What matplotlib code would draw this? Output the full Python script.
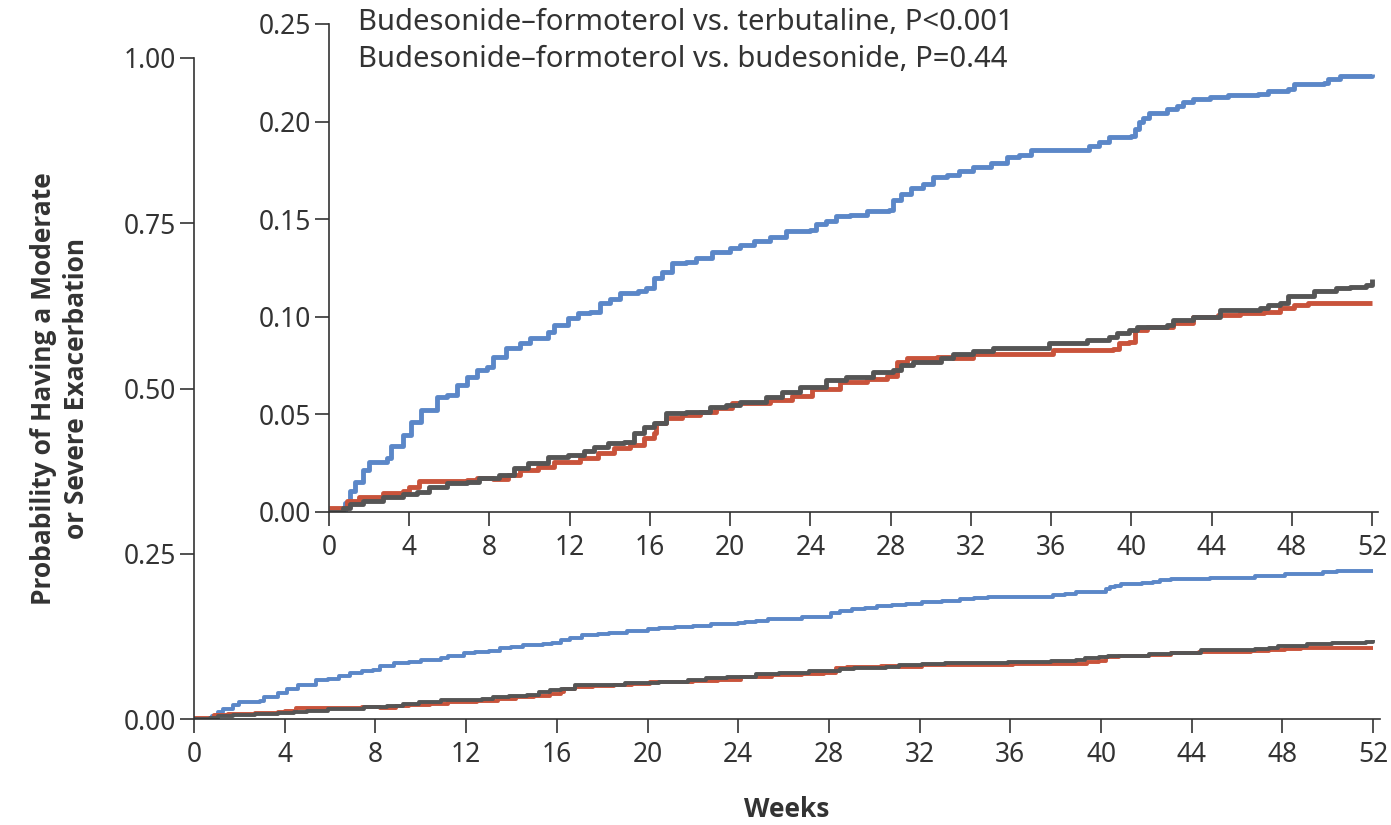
import matplotlib
matplotlib.use('Agg')
from matplotlib import pyplot as plt

# ── Data ─────────────────────────────────────────────────────────────────────
weeks_terb = [0, 0.8, 1.05, 1.3, 1.7, 2.0, 2.9, 3.1, 3.7, 4.1, 4.6, 5.4, 5.9, 6.4, 6.9,
              7.4, 7.9, 8.2, 8.8, 9.5, 10.0, 10.9, 11.2, 11.9, 12.4, 13.0, 13.5, 14.0,
              14.5, 15.4, 15.8, 16.2, 16.6, 17.1, 17.8, 18.3, 19.1, 20.0, 20.5, 21.2,
              22.0, 22.8, 24.0, 24.3, 24.8, 25.3, 26.0, 26.8, 27.9, 28.1, 28.5, 29.0,
              29.6, 30.1, 30.8, 31.4, 32.1, 33.0, 33.8, 34.4, 35.0, 37.6, 37.9, 38.4,
              38.9, 40.0, 40.2, 40.4, 40.6, 40.9, 41.8, 42.3, 42.6, 43.1, 43.9, 44.8,
              46.3, 46.8, 47.8, 48.1, 49.6, 49.8, 50.4, 52.0]
prob_terb = [0.0, 0.0046, 0.011, 0.0154, 0.0216, 0.0257, 0.0277, 0.034, 0.0395, 0.046,
             0.052, 0.059, 0.060, 0.065, 0.069, 0.073, 0.0745, 0.0796, 0.084, 0.0867,
             0.089, 0.092, 0.096, 0.0996, 0.102, 0.1027, 0.107, 0.109, 0.112, 0.113,
             0.115, 0.120, 0.123, 0.1278, 0.128, 0.130, 0.133, 0.1355, 0.137, 0.1386,
             0.141, 0.1437, 0.1447, 0.1473, 0.149, 0.1514, 0.152, 0.154, 0.1545, 0.160,
             0.1627, 0.166, 0.168, 0.1714, 0.1725, 0.1745, 0.1766, 0.179, 0.1817, 0.183,
             0.1853, 0.1853, 0.1874, 0.1894, 0.192, 0.1925, 0.196, 0.1997, 0.2017,
             0.2043, 0.2064, 0.208, 0.210, 0.2115, 0.2125, 0.2136, 0.214, 0.2156,
             0.2166, 0.2192, 0.220, 0.2218, 0.2233, 0.2243]

weeks_bud = [0, 0.9, 1.5, 2.7, 3.7, 4.0, 4.5, 6.9, 7.4, 8.2, 8.9, 9.5, 10.4, 11.2, 12.5,
             13.4, 14.2, 15.0, 15.7, 16.2, 16.3, 16.8, 17.6, 18.5, 19.3, 20.1, 22.0,
             23.1, 24.1, 25.5, 26.8, 27.8, 28.3, 28.8, 30.3, 31.1, 32.1, 35.3, 36.1,
             39.1, 39.4, 39.9, 40.2, 40.8, 42.1, 43.1, 44.3, 45.4, 46.6, 47.4, 48.1,
             48.8, 52.0]
prob_bud = [0.002, 0.0056, 0.0077, 0.0098, 0.0108, 0.0128, 0.016, 0.0164, 0.0175, 0.017,
            0.019, 0.0216, 0.0231, 0.0257, 0.0277, 0.0303, 0.0328, 0.0344, 0.038, 0.0405,
            0.0457, 0.048, 0.0498, 0.0513, 0.0534, 0.056, 0.0575, 0.0596, 0.0631, 0.0667,
            0.0683, 0.0698, 0.077, 0.079, 0.0796, 0.079, 0.081, 0.081, 0.0832, 0.0837,
            0.0868, 0.0873, 0.0934, 0.095, 0.097, 0.100, 0.101, 0.102, 0.1027, 0.1047,
            0.1063, 0.1073, 0.1073]

weeks_budform = [0, 0.7, 1.05, 1.7, 2.7, 3.7, 4.4, 5.0, 5.9, 6.9, 7.5, 8.5, 9.2, 9.9,
                 10.9, 11.9, 12.7, 13.2, 13.9, 14.7, 15.2, 15.7, 16.2, 16.8, 17.8, 19.0,
                 19.8, 20.5, 21.8, 22.6, 23.5, 24.8, 25.8, 27.1, 28.1, 28.5, 29.1, 30.5,
                 31.1, 32.1, 33.1, 35.9, 37.8, 38.9, 39.3, 39.9, 40.3, 41.8, 42.1, 43.1,
                 44.4, 46.4, 46.8, 47.4, 47.8, 49.1, 50.2, 50.9, 51.7, 52.0]
prob_budform = [0.0, 0.002, 0.004, 0.0056, 0.0077, 0.0092, 0.0103, 0.0128, 0.0149, 0.0154,
                0.0175, 0.019, 0.0226, 0.025, 0.028, 0.0293, 0.031, 0.0334, 0.0354, 0.036,
                0.0405, 0.0436, 0.0457, 0.0508, 0.0513, 0.054, 0.055, 0.0565, 0.059,
                0.0616, 0.064, 0.0678, 0.0693, 0.0719, 0.073, 0.0755, 0.077, 0.079, 0.081,
                0.0827, 0.0842, 0.0868, 0.0883, 0.0898, 0.0919, 0.0934, 0.095, 0.096,
                0.0986, 0.100, 0.1037, 0.1047, 0.1063, 0.1073, 0.1104, 0.113, 0.115,
                0.1155, 0.1165, 0.1196]

series = [
    (weeks_terb, prob_terb, '#5b87c8'),
    (weeks_bud, prob_bud, '#c9533b'),
    (weeks_budform, prob_budform, '#555555'),
]

x_ticks = list(range(0, 53, 4))
main_y_ticks = [0.0, 0.25, 0.5, 0.75, 1.0]
inset_y_ticks = [0.0, 0.05, 0.10, 0.15, 0.20, 0.25]
annotation = ['Budesonide\u2013formoterol vs. terbutaline, P<0.001',
              'Budesonide\u2013formoterol vs. budesonide, P=0.44']

# ── Style ────────────────────────────────────────────────────────────────────
plt.rcParams['font.family'] = ['Noto Sans', 'DejaVu Sans']
INK = '#333333'
BOLD_FONT = ['Open Sans', 'DejaVu Sans']


def style_axes(ax, yticks, fs):
    for side in ('top', 'right'):
        ax.spines[side].set_visible(False)
    for side in ('left', 'bottom'):
        ax.spines[side].set_color(INK)
        ax.spines[side].set_linewidth(1.2)
    ax.set_xlim(0, 52.3)
    ax.set_xticks(x_ticks)
    ax.set_yticks(yticks)
    ax.set_yticklabels(['{:.2f}'.format(v) for v in yticks])
    ax.tick_params(axis='both', direction='out', length=10, width=1.2,
                   color=INK, labelcolor=INK, labelsize=fs)
    ax.tick_params(axis='x', pad=6)
    ax.tick_params(axis='y', pad=3)


fig = plt.figure(figsize=(13.91, 8.25), dpi=100)

# ── Main panel ───────────────────────────────────────────────────────────────
ax = fig.add_axes([194 / 1391, 106 / 825, 1186 / 1391, 661 / 825])
for w, p, c in series:
    ax.plot(w, p, drawstyle='steps-post', color=c, linewidth=2.8, solid_capstyle='butt')
ax.set_ylim(0, 1.0)
style_axes(ax, main_y_ticks, 19)
ax.set_xlabel('Weeks', fontsize=19, fontweight='bold', family=BOLD_FONT,
              color=INK, labelpad=19)
ax.set_ylabel('Probability of Having a Moderate\nor Severe Exacerbation',
              fontsize=19, fontweight='bold', family=BOLD_FONT, color=INK,
              labelpad=24, linespacing=1.3)

# ── Inset (zoomed) ───────────────────────────────────────────────────────────
ins = fig.add_axes([329 / 1391, 313 / 825, 1049 / 1391, 488 / 825])
ins.set_facecolor('white')
for w, p, c in series:
    ins.plot(w, p, drawstyle='steps-post', color=c, linewidth=3.5, solid_capstyle='butt')
ins.set_ylim(0, 0.25)
style_axes(ins, inset_y_ticks, 19)

ins.text(29 / 1049, 1.004, annotation[0], transform=ins.transAxes, fontsize=21,
         color=INK, va='center', ha='left')
ins.text(29 / 1049, 0.928, annotation[1], transform=ins.transAxes, fontsize=21,
         color=INK, va='center', ha='left')

fig.savefig('out.png', dpi=100)
